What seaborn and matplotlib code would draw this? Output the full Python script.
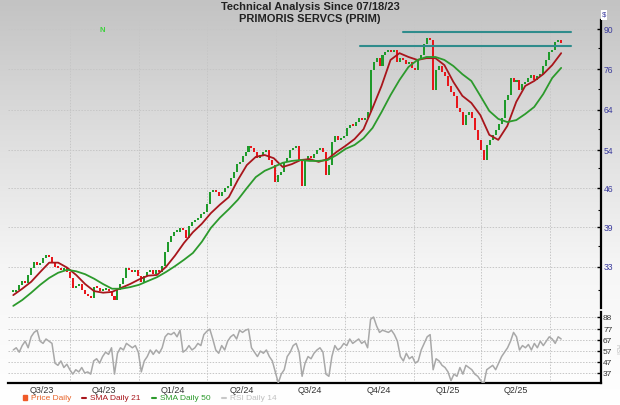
import numpy as np
import pandas as pd
import matplotlib
matplotlib.use("Agg")
import matplotlib.pyplot as plt
import matplotlib.dates as mdates
from matplotlib.ticker import FixedLocator, FixedFormatter, NullFormatter
from matplotlib.lines import Line2D
from matplotlib.patches import Patch
from matplotlib.colors import LinearSegmentedColormap
import seaborn as sns

# ---------------- data ----------------
first_date, last_date = "2023-07-18", "2025-07-16"

closes = [
    29.7, 30.0, 30.6, 31.1, 30.8, 31.9,
    32.9, 33.7, 33.3, 33.6, 34.3, 34.7, 34.4, 33.7, 33.0, 32.9, 32.6, 32.9, 32.3, 31.5,
    30.2, 30.5, 30.7, 30.0,
    29.4, 29.2, 29.0, 30.3, 30.2, 29.8, 30.0, 30.1, 29.8, 29.2,
    28.7, 30.0, 30.7, 31.5, 32.9, 32.6, 32.3, 32.6, 31.8, 31.0,
    31.8, 32.3, 32.6, 32.0, 32.6, 32.3, 33.1, 35.2, 36.7, 37.6,
    38.2, 38.2, 38.9, 38.6, 37.3, 39.2, 39.9, 40.2, 40.6, 41.3,
    41.6, 43.0, 45.3, 45.7, 45.3, 44.5, 45.3, 46.0, 46.4, 48.0,
    49.2, 50.9, 51.4, 52.7, 53.6, 55.0, 54.5, 53.6, 52.2, 52.9,
    53.6, 54.0, 51.8, 50.7, 47.2, 48.6, 49.2, 51.4, 52.2, 54.0,
    54.5, 55.0, 51.8, 46.4, 51.8, 52.7, 52.2, 53.1, 54.0, 54.5,
    53.6, 48.6, 50.7, 55.9, 57.3, 56.4, 56.8, 57.3, 59.3, 60.0,
    59.8, 60.8, 61.8, 61.3, 61.8, 63.4, 75.7, 78.3, 79.6, 77.0,
    80.7, 81.7, 82.4, 81.7, 82.4, 78.3, 79.6, 79.0, 77.7, 78.3,
    76.4, 75.7, 79.0, 80.7, 84.5, 86.7, 85.9, 69.6, 75.7, 77.0,
    75.1, 73.8, 70.8, 69.0, 67.9, 64.5, 63.4, 60.0, 62.6, 63.4,
    61.8, 58.8, 56.4, 54.0, 51.8, 55.2, 56.4, 57.6, 58.8, 60.3,
    61.8, 66.7, 68.1, 73.2, 72.0, 72.6, 69.6, 71.4, 72.0, 73.2,
    74.1, 72.6, 73.8, 74.4, 77.0, 79.0, 81.7, 82.4, 85.2, 85.9,
    84.8,
]

rsi14 = [
    58, 60, 56, 62, 66, 60, 70, 74, 76, 66,
    64, 68, 66, 64, 46, 44, 48, 42, 45, 40,
    36, 40, 38, 42, 37, 38, 36, 48, 50, 46,
    52, 56, 54, 60, 36, 55, 60, 58, 64, 62,
    60, 62, 56, 38, 48, 52, 58, 54, 58, 55,
    60, 70, 73, 72, 74, 70, 76, 56, 58, 62,
    58, 60, 64, 62, 72, 75, 77, 68, 58, 55,
    62, 58, 66, 70, 72, 68, 76, 74, 76, 77,
    60, 56, 52, 57, 55, 58, 52, 48, 38, 28,
    36, 40, 52, 56, 62, 64, 56, 34, 46, 52,
    50, 55, 58, 60, 56, 36, 34, 52, 62, 58,
    60, 64, 62, 68, 64, 66, 68, 64, 66, 60,
    86, 88, 80, 74, 76, 75, 74, 76, 72, 66,
    52, 48, 55, 50, 52, 46, 48, 58, 64, 70,
    72, 40, 50, 48, 44, 42, 38, 30, 36, 34,
    42, 36, 44, 42, 40, 36, 34, 30, 27, 40,
    42, 44, 40, 46, 52, 56, 60, 66, 74, 70,
    58, 62, 60, 63, 58, 64, 60, 66, 62, 66,
    70, 68, 64, 70, 68,
]

sma21 = [
    29.3, 30.1, 31.0, 32.3, 33.6, 33.6, 32.9, 31.9, 30.7, 29.8,
    29.6, 29.7, 30.2, 30.7, 31.3, 31.8, 31.9, 33.0, 34.6, 36.5,
    38.2, 39.6, 41.4, 42.9, 44.3, 47.6, 50.7, 52.5, 52.9, 52.2,
    50.3, 50.9, 51.8, 52.0, 51.4, 52.0, 53.6, 55.0, 56.6, 59.0,
    64.5, 70.8, 79.0, 81.3, 80.0, 79.0, 79.6, 79.6, 77.3, 72.0,
    67.9, 65.9, 62.6, 57.6, 56.4, 59.8, 66.2, 70.8, 72.3, 74.4,
    77.3, 81.3,
]

sma50 = [
    28.0, 28.7, 29.6, 30.6, 31.5, 32.2, 32.6, 32.4, 32.0, 31.4,
    30.7, 30.1, 30.1, 30.3, 30.6, 31.1, 31.6, 32.3, 33.1, 34.0,
    35.0, 36.7, 38.9, 40.6, 42.1, 43.8, 46.0, 48.2, 49.5, 50.3,
    51.2, 51.6, 51.8, 51.6, 51.6, 51.8, 52.9, 54.3, 55.2, 56.8,
    59.3, 63.4, 68.1, 72.6, 76.7, 79.0, 80.0, 80.0, 79.0, 77.0,
    74.4, 72.3, 67.9, 63.7, 61.6, 60.8, 61.3, 62.9, 64.8, 68.4,
    73.2, 76.4,
]

price_ticks = [33, 39, 46, 54, 64, 76, 90]
rsi_ticks = [37, 47, 57, 67, 77, 88]
quarter_starts = ["2023-10-01", "2024-01-01", "2024-04-01", "2024-07-01",
                  "2024-10-01", "2025-01-01", "2025-04-01", "2025-07-01"]
quarter_labels = ["Q3/23", "Q4/23", "Q1/24", "Q2/24", "Q3/24", "Q4/24", "Q1/25", "Q2/25"]
resist_levels = [88.9, 83.9]
resist_starts = ["2024-12-17", "2024-10-21"]
resist_end = "2025-07-29"
view_start, view_end = "2023-07-11", "2025-09-07"

# ---------------- derived tables ----------------
dates = pd.date_range(first_date, last_date, periods=len(closes))
sma_dates = pd.date_range(first_date, last_date, periods=len(sma21))
df = pd.DataFrame({"date": dates, "close": closes, "rsi": rsi14})
df["open"] = df["close"].shift(1).fillna(df["close"].iloc[0])
sma_df = pd.DataFrame({"date": sma_dates, "sma21": sma21, "sma50": sma50})

# ---------------- style ----------------
sns.set_theme(style="white")
plt.rcParams["font.family"] = ["Liberation Sans", "DejaVu Sans"]

C_UP, C_DN = "#1e9a2a", "#e8161b"
C_S21, C_S50, C_RSI = "#a8161c", "#2c9a2c", "#a8a8a8"
C_GRID = "#c6c6c6"

fig = plt.figure(figsize=(6.2, 4.05), dpi=100)

bg = fig.add_axes([0, 0, 1, 1], zorder=-10)
cmap = LinearSegmentedColormap.from_list("bg", ["#c3c3c3", "#dedede", "#f6f6f6", "#ffffff"])
bg.imshow(np.linspace(0, 1, 256).reshape(-1, 1), aspect="auto", cmap=cmap,
          extent=[0, 1, 0, 1], origin="upper")
bg.set_xlim(0, 1); bg.set_ylim(0, 1); bg.axis("off")

W, H = 620.0, 405.0
ax = fig.add_axes([8 / W, 1 - 308 / H, 593 / W, 288 / H])
ax2 = fig.add_axes([8 / W, 1 - 383 / H, 593 / W, 71 / H])
for a in (ax, ax2):
    a.set_facecolor("none")
    for s in ("left", "top"):
        a.spines[s].set_visible(False)
    a.spines["right"].set_color("black")
    a.spines["right"].set_linewidth(1.6)

xlim = (mdates.date2num(pd.Timestamp(view_start)), mdates.date2num(pd.Timestamp(view_end)))
qnums = mdates.date2num(pd.to_datetime(quarter_starts))

# ---- candles ----
o = df["open"].to_numpy(); c = df["close"].to_numpy()
lo = np.minimum(o, c)
hi = np.maximum(np.maximum(o, c), lo * 1.008)
cols = np.where(c >= o, C_UP, C_DN)
ax.bar(df["date"], hi - lo, bottom=lo, width=2.7, color=cols, linewidth=0, zorder=3)

sns.lineplot(data=sma_df, x="date", y="sma21", ax=ax, color=C_S21, lw=1.3, zorder=4)
sns.lineplot(data=sma_df, x="date", y="sma50", ax=ax, color=C_S50, lw=1.3, zorder=4)

for lvl, st in zip(resist_levels, resist_starts):
    ax.plot([pd.Timestamp(st), pd.Timestamp(resist_end)], [lvl, lvl], color="#2f8c8c", lw=1.5, zorder=5)

ax.set_yscale("log")
ax.set_ylim(27.75, 93.5)
ax.set_xlim(*xlim)
ax.yaxis.tick_right()
ax.yaxis.set_major_locator(FixedLocator(price_ticks))
ax.yaxis.set_major_formatter(FixedFormatter([str(t) for t in price_ticks]))
ax.yaxis.set_minor_locator(FixedLocator([30, 36, 42, 50, 59, 70, 83]))
ax.yaxis.set_minor_formatter(NullFormatter())
ax.tick_params(axis="y", which="major", direction="in", length=3, width=1, color="black",
               labelcolor="#3b3b9c", labelsize=6.2, pad=2)
ax.tick_params(axis="y", which="minor", direction="in", length=2, width=0.8, color="black")
ax.xaxis.set_major_locator(FixedLocator(qnums))
ax.xaxis.set_major_formatter(NullFormatter())
ax.tick_params(axis="x", length=0)
ax.spines["bottom"].set_visible(False)
ax.grid(True, which="major", axis="both", color=C_GRID, lw=0.7, ls=(0, (1.5, 1.5)))
ax.set_xlabel(""); ax.set_ylabel("")

# ---- RSI panel ----
sns.lineplot(data=df, x="date", y="rsi", ax=ax2, color=C_RSI, lw=1.1, zorder=3)
ax2.set_ylim(27.9, 92.6)
ax2.set_xlim(*xlim)
ax2.yaxis.tick_right()
ax2.yaxis.set_major_locator(FixedLocator(rsi_ticks))
ax2.yaxis.set_major_formatter(FixedFormatter([str(t) for t in rsi_ticks]))
ax2.tick_params(axis="y", direction="in", length=3, width=1, color="black",
                labelcolor="#333333", labelsize=6, pad=1.5)
ax2.spines["bottom"].set_color("black")
ax2.spines["bottom"].set_linewidth(1.6)
ax2.xaxis.set_major_locator(FixedLocator(qnums))
ax2.xaxis.set_major_formatter(NullFormatter())
q_edges = [mdates.date2num(pd.Timestamp(first_date))] + list(qnums)
centers = [(q_edges[i] + q_edges[i + 1]) / 2 for i in range(len(quarter_labels))]
ax2.xaxis.set_minor_locator(FixedLocator(centers))
ax2.xaxis.set_minor_formatter(FixedFormatter(quarter_labels))
ax2.tick_params(axis="x", which="major", direction="in", length=2, color="black")
ax2.tick_params(axis="x", which="minor", length=0, labelsize=6.5, labelcolor="#333333", pad=2.5)
ax2.grid(True, which="major", axis="both", color=C_GRID, lw=0.7, ls=(0, (1.5, 1.5)))
ax2.set_xlabel(""); ax2.set_ylabel("")

# ---- texts ----
tfam = ["Liberation Sans Narrow", "Liberation Sans", "DejaVu Sans"]
fig.text(0.5, 1 - 7 / H, "Technical Analysis Since 07/18/23", ha="center", va="center",
         fontsize=8, fontweight="bold", color="#222222", family=tfam)
fig.text(0.5, 1 - 19 / H, "PRIMORIS SERVCS (PRIM)", ha="center", va="center",
         fontsize=8, fontweight="bold", color="#222222", family=tfam)
fig.text(102 / W, 1 - 30 / H, "N", ha="center", va="center", fontsize=5.5,
         fontweight="bold", color="#3fd13f")
fig.text(604 / W, 1 - 15 / H, "$", ha="center", va="center", fontsize=5.5, color="#3b3b9c",
         bbox=dict(boxstyle="square,pad=0.15", fc="white", ec="none"))
fig.text(617 / W, 1 - 350 / H, "RSI", ha="center", va="center", fontsize=4.8,
         rotation=270, color="#c0c0c0")

handles = [Patch(color="#f05a28"),
           Line2D([], [], color=C_S21, lw=1.5),
           Line2D([], [], color=C_S50, lw=1.5),
           Line2D([], [], color="#c8c8c8", lw=1.5)]
labels = ["Price Daily", "SMA Daily 21", "SMA Daily 50", "RSI Daily 14"]
fig.legend(handles, labels, loc="lower left", bbox_to_anchor=(15 / W, -0.012), ncol=4,
           frameon=False, fontsize=6, handlelength=0.5, handleheight=0.5, handletextpad=0.5,
           columnspacing=1.3, labelcolor=["#e8642a", C_S21, C_S50, "#c0c0c0"])

fig.savefig("out.png", dpi=100)
